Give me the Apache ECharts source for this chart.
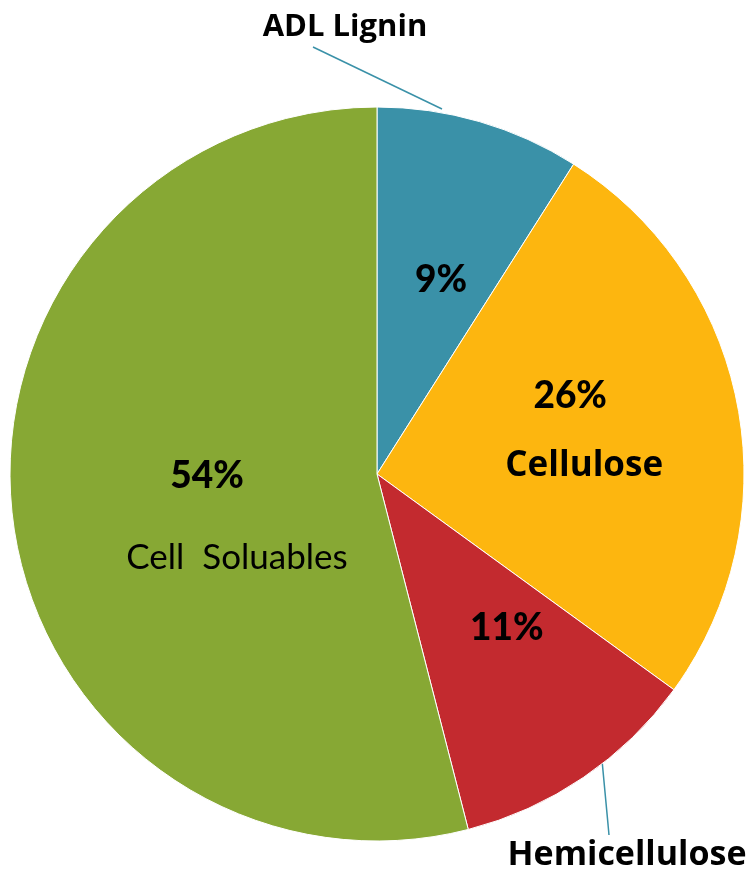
<!DOCTYPE html>
<html>
<head>
<meta charset="utf-8">
<script src="https://cdn.jsdelivr.net/npm/echarts@6/dist/echarts.min.js"></script>
<style>
    html, body { margin: 0; padding: 0; background: #fff; }
    #pieChart { width: 752px; height: 874px; }
</style>
</head>
<body>
<div id="pieChart"></div>
<script>
    // slice data, clockwise from 12 o'clock
    let names = ['ADL Lignin', 'Cellulose', 'Hemicellulose', 'Cell  Soluables'];
    let values = [9, 26, 11, 54];
    let colors = ['#3a91a8', '#fdb60f', '#c32a2f', '#87a834'];

    let myChart = echarts.init(document.getElementById('pieChart'));

    // inner labels: nudge away from the default half-radius spot
    let innerOffset = [[12, -15], [24, -8], [25, 0], [45, 25]];
    let innerText = ['{p|9%}', '{p2|26%}\n{b|Cellulose}', '{p|11%}', '{p3|54%}\n{n|Cell  Soluables}'];

    let pieData = [], ghostData = [];
    names.map((name, i) => {
        pieData.push({
            name: name,
            value: values[i],
            itemStyle: {color: colors[i]},
            label: {formatter: innerText[i], offset: innerOffset[i]}
        });
        ghostData.push({
            name: name,
            value: values[i],
            label: {show: i === 0 || i === 2, fontSize: i === 2 ? 34 : 31},
            labelLine: {show: i === 0 || i === 2}
        });
        return name;
    });

    let pct = {fontFamily: 'Lato', fontWeight: 900, fontSize: 37, lineHeight: 70, color: '#000'};

    let option = {
        animation: false,
        series: [
            {
                type: 'pie',
                center: [377, 474],
                radius: 367,
                startAngle: 90,
                silent: true,
                itemStyle: {borderColor: '#fff', borderWidth: 1},
                label: {
                    position: 'inside',
                    color: '#000',
                    rich: {
                        p: pct,
                        p2: Object.assign({}, pct, {padding: [0, 28, 0, 0]}),
                        p3: Object.assign({}, pct, {padding: [0, 60, 0, 0]}),
                        b: {fontFamily: 'Open Sans', fontWeight: 'bold', fontSize: 35, lineHeight: 70, color: '#000'},
                        n: {fontFamily: 'Lato', fontWeight: 'normal', fontSize: 35, lineHeight: 92, color: '#000'}
                    }
                },
                labelLine: {show: false},
                data: pieData
            },
            {
                // transparent copy, only carries the outside labels
                type: 'pie',
                center: [377, 474],
                radius: 367,
                startAngle: 90,
                silent: true,
                itemStyle: {color: 'transparent'},
                label: {
                    position: 'outside',
                    fontFamily: 'Open Sans',
                    fontWeight: 'bold',
                    fontSize: 31,
                    color: '#000',
                    overflow: 'none'
                },
                labelLine: {lineStyle: {color: '#3a91a8', width: 1.5}},
                labelLayout: function (params) {
                    if (params.dataIndex === 0) {
                        return {x: 345, y: 27, align: 'center', verticalAlign: 'middle',
                            labelLinePoints: [[442, 109], [313, 47], [313, 47]]};
                    }
                    if (params.dataIndex === 2) {
                        return {x: 627, y: 855, align: 'center', verticalAlign: 'middle',
                            labelLinePoints: [[602, 760], [609, 835], [609, 835]]};
                    }
                },
                data: ghostData
            }
        ]
    };

    myChart.setOption(option);
</script>
</body>
</html>
